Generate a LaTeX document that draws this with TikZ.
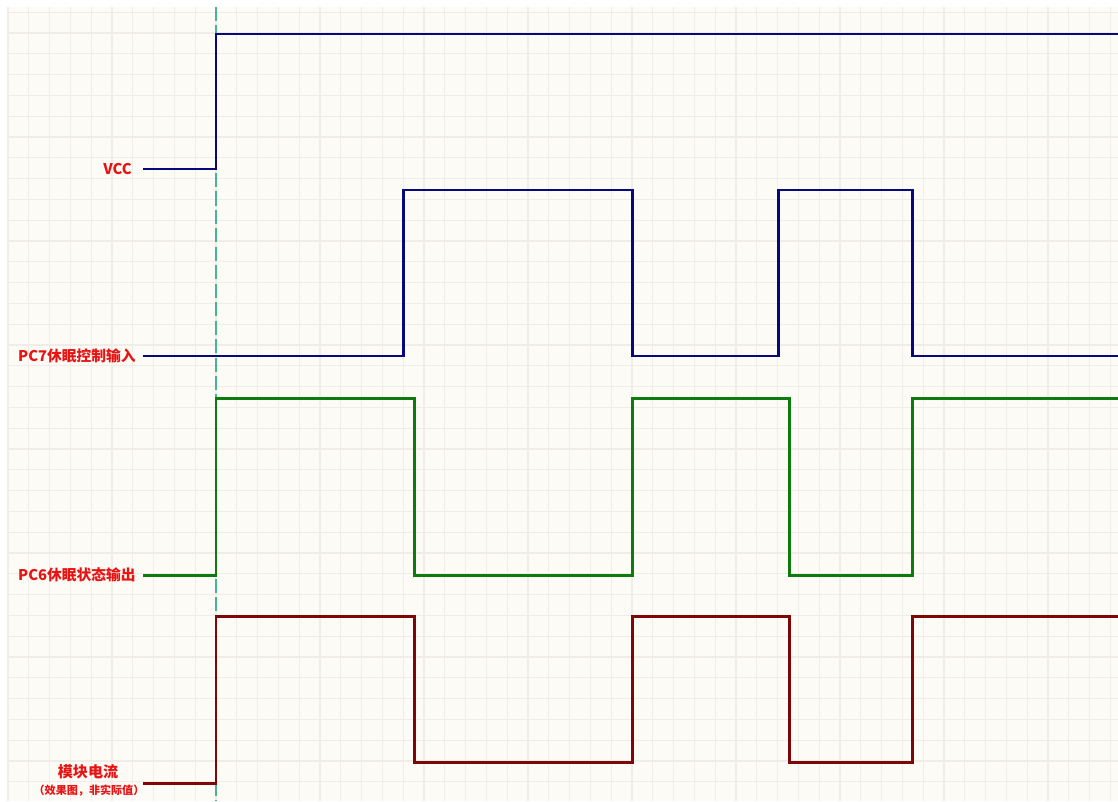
\documentclass[tikz,border=0pt]{standalone}
\usepackage{fontspec}
\setmainfont{Noto Sans CJK SC}
\usepackage{xcolor}
\usetikzlibrary{positioning}

\definecolor{paper}{RGB}{253,251,246}
\definecolor{gridline}{RGB}{240,237,232}
\definecolor{navy}{RGB}{8,8,125}
\definecolor{darkgreen}{RGB}{12,125,12}
\definecolor{darkred}{RGB}{125,6,6}
\definecolor{tagred}{RGB}{232,20,20}
\definecolor{marker}{RGB}{70,180,150}

\begin{document}
\begin{tikzpicture}[
  x=0.02cm, y=-0.02cm,
  wave/.style={line width=1.7pt, line join=miter},
  tag/.style={anchor=east, text=tagred, font=\bfseries\fontsize{8.4}{10}\selectfont, inner sep=0pt},
  note/.style={text=tagred, font=\bfseries\fontsize{6.3}{7}\selectfont, inner sep=0pt}
]
\useasboundingbox (0,0) rectangle (1118,801);
% paper and grid
\fill[white] (0,0) rectangle (1118,801);
\fill[paper] (7,7) rectangle (1118,801);
\foreach \i in {0,...,53}
  \draw[gridline, line width=0.7pt] (8+20.8*\i,7) -- (8+20.8*\i,801);
\foreach \j in {0,...,38}
  \draw[gridline, line width=0.7pt] (7,12.2+20.8*\j) -- (1118,12.2+20.8*\j);

% marker at power-on
\coordinate (mtop) at (216,7);
\coordinate (mbot) at (216,801);
\draw[marker, line width=0.6pt, dash pattern=on 8pt off 2.5pt] (mtop) -- (mbot);

% signal names
\node[tag] (vcc) at (132,169) {VCC};
\node[tag] (pc7) at (136,356) {PC7休眠控制输入};
\node[tag] (pc6) at (136,575) {PC6休眠状态输出};
\node[text=tagred, font=\bfseries\fontsize{8.6}{10}\selectfont, inner sep=0pt] (cur) at (88,772) {模块电流};
\node[note] (curnote) at (89,791) {（效果图，非实际值）};

% waveforms
\draw[wave, navy] (143,169) -| (216,34) -- (1118,34);
\draw[wave, navy] (143,356) -| (403,190) -| (632,356) -| (778,190) -| (912,356) -- (1118,356);
\draw[wave, darkgreen] (143,575) -| (216,398) -| (414,575) -| (632,398) -| (789,575) -| (912,398) -- (1118,398);
\draw[wave, darkred] (143,783) -| (216,616) -| (414,762) -| (632,616) -| (789,762) -| (912,616) -- (1118,616);
\end{tikzpicture}
\end{document}
